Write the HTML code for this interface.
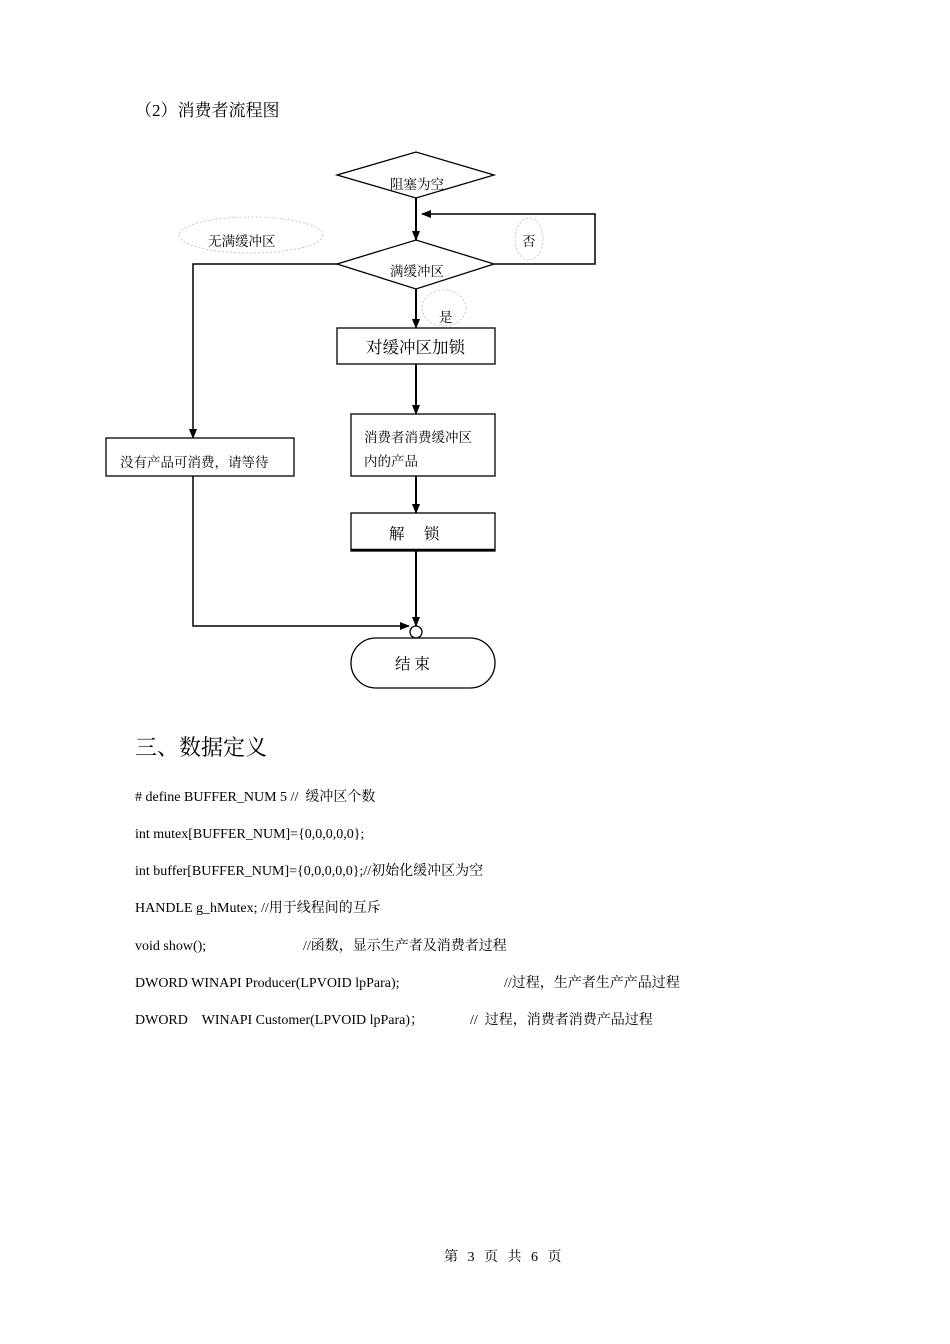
<!DOCTYPE html>
<html><head><meta charset="utf-8"><style>
html,body{margin:0;padding:0;background:#fff;}
body{width:950px;height:1344px;position:relative;overflow:hidden;font-family:"Liberation Serif","Noto Serif CJK SC",serif;color:#000;}
.t{position:absolute;white-space:nowrap;line-height:1;}
.c{font-size:14px;}
</style></head><body>
<div class="t" style="left:135px;top:102px;font-size:17px;">（2）消费者流程图</div>

<svg width="950" height="720" style="position:absolute;left:0;top:0" xmlns="http://www.w3.org/2000/svg">
<defs><marker id="a" markerWidth="10" markerHeight="10" refX="9" refY="5" orient="auto" markerUnits="userSpaceOnUse"><path d="M0,1 L10,5 L0,9 z" fill="#000"/></marker></defs>
<g fill="none" stroke="#000" stroke-width="1.3">
<polygon points="337,175 416,152 494,175 416,198" fill="#fff"/>
<polygon points="337,264 416,240 494,264 416,289" fill="#fff"/>
<line x1="416" y1="198" x2="416" y2="240" stroke-width="2" marker-end="url(#a)"/>
<polyline points="494,264 595,264 595,214 422,214" marker-end="url(#a)" stroke-width="1.5"/>
<polyline points="337,264 193,264 193,438" marker-end="url(#a)" stroke-width="1.5"/>
<line x1="416" y1="289" x2="416" y2="328" stroke-width="2" marker-end="url(#a)"/>
<rect x="337" y="328" width="158" height="36"/>
<line x1="416" y1="364" x2="416" y2="414" stroke-width="2" marker-end="url(#a)"/>
<rect x="351" y="414" width="144" height="62"/>
<line x1="416" y1="476" x2="416" y2="513" stroke-width="2" marker-end="url(#a)"/>
<rect x="351" y="513" width="144" height="38"/>
<line x1="351" y1="550" x2="495" y2="550" stroke-width="2.5"/>
<line x1="416" y1="551" x2="416" y2="626" stroke-width="2" marker-end="url(#a)"/>
<rect x="106" y="438" width="188" height="38"/>
<polyline points="193,476 193,626 409,626" marker-end="url(#a)" stroke-width="1.5"/>
<circle cx="416" cy="632" r="6" fill="#fff"/>
<rect x="351" y="638" width="144" height="50" rx="25" ry="25"/>
</g>
<g fill="none" stroke="#bbb" stroke-width="0.8" stroke-dasharray="2,2">
<ellipse cx="251" cy="235" rx="72" ry="18"/>
<ellipse cx="529" cy="239" rx="14" ry="21"/>
<ellipse cx="444" cy="308" rx="22" ry="18"/>
</g>
</svg>

<div class="t" style="left:390px;top:178px;font-size:13.5px;">阻塞为空</div>
<div class="t" style="left:208px;top:235px;font-size:13.5px;">无满缓冲区</div>
<div class="t" style="left:522px;top:235px;font-size:13.5px;">否</div>
<div class="t" style="left:390px;top:265px;font-size:13.5px;">满缓冲区</div>
<div class="t" style="left:439px;top:311px;font-size:13.5px;">是</div>
<div class="t" style="left:366px;top:340px;font-size:16.5px;">对缓冲区加锁</div>
<div class="t" style="left:364px;top:431px;font-size:13.5px;">消费者消费缓冲区</div>
<div class="t" style="left:364px;top:455px;font-size:13.5px;">内的产品</div>
<div class="t" style="left:120px;top:456px;font-size:13.5px;">没有产品可消费，请等待</div>
<div class="t" style="left:389px;top:527px;font-size:15.5px;">解　 锁</div>
<div class="t" style="left:395px;top:657px;font-size:15.5px;">结 束</div>

<div class="t" style="left:135px;top:737px;font-size:22px;">三、数据定义</div>

<div class="t c" style="left:135px;top:791px;"># define BUFFER_NUM 5 //&nbsp; 缓冲区个数</div>
<div class="t c" style="left:135px;top:828px;">int mutex[BUFFER_NUM]={0,0,0,0,0};</div>
<div class="t c" style="left:135px;top:865px;">int buffer[BUFFER_NUM]={0,0,0,0,0};//初始化缓冲区为空</div>
<div class="t c" style="left:135px;top:902px;">HANDLE g_hMutex; //用于线程间的互斥</div>
<div class="t c" style="left:135px;top:940px;">void show();</div>
<div class="t c" style="left:303px;top:940px;">//函数，显示生产者及消费者过程</div>
<div class="t c" style="left:135px;top:977px;">DWORD WINAPI Producer(LPVOID lpPara);</div>
<div class="t c" style="left:504px;top:977px;">//过程，生产者生产产品过程</div>
<div class="t c" style="left:135px;top:1014px;">DWORD&nbsp;&nbsp;&nbsp; WINAPI Customer(LPVOID lpPara)；</div>
<div class="t c" style="left:470px;top:1014px;">//&nbsp; 过程，消费者消费产品过程</div>

<div class="t c" style="left:444px;top:1251px;word-spacing:6px;">第 3 页 共 6 页</div>
</body></html>
